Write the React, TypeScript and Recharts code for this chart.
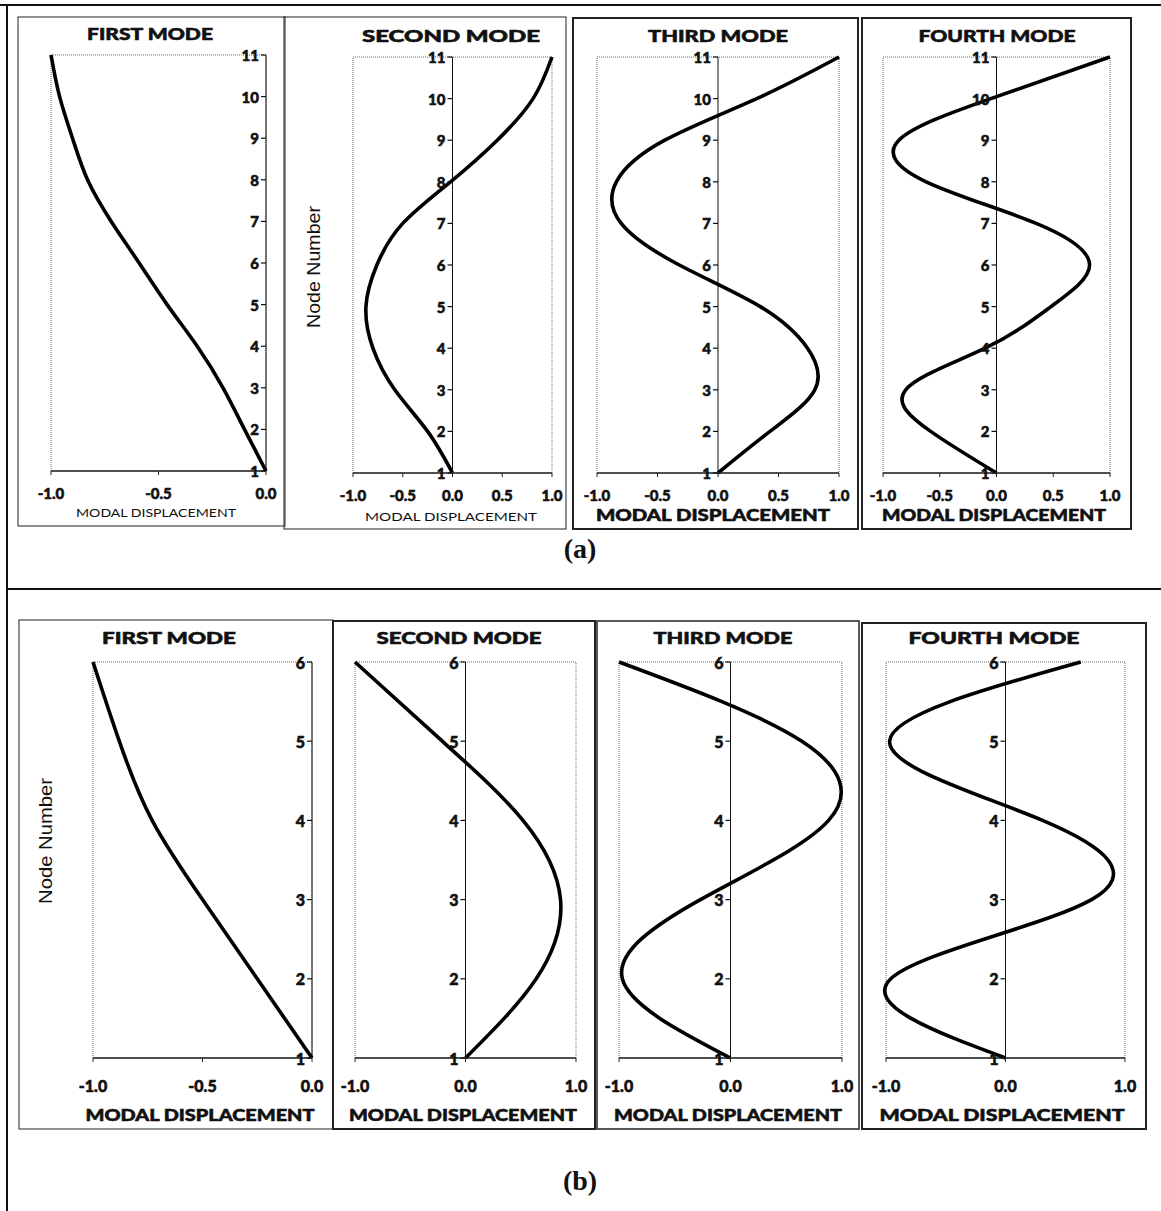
import React from "react";
import { Line, LineChart, ReferenceArea, ReferenceDot, ReferenceLine, XAxis, YAxis } from "recharts";

const HEAVY = 'Lato, "Open Sans", sans-serif';

// node numbers along the height of the structure
const nodesA = [1, 2, 3, 4, 5, 6, 7, 8, 9, 10, 11];
const nodesB = [1, 2, 3, 4, 5, 6];

// modal displacements at each node, (a) 11-node model
const firstModeA = [0, -0.1, -0.2, -0.32, -0.46, -0.59, -0.72, -0.83, -0.9, -0.96, -1.0];
const secondModeA = [0, -0.25, -0.58, -0.8, -0.87, -0.76, -0.5, -0.02, 0.45, 0.81, 1.0];
const thirdModeA = [0, 0.43, 0.8, 0.74, 0.35, -0.32, -0.8, -0.84, -0.44, 0.32, 1.0];
const fourthModeA = [0, -0.58, -0.8, -0.1, 0.48, 0.82, 0.35, -0.62, -0.86, -0.05, 1.0];

// (b) 6-node model
const firstModeB = [0, -0.25, -0.5, -0.73, -0.88, -1.0];
const secondModeB = [0, 0.64, 0.86, 0.52, -0.21, -1.0];
const thirdModeB = [0, -0.97, -0.27, 0.88, 0.64, -1.0];
const fourthModeB = [0, -0.96, 0.72, 0.31, -0.97, 0.63];

const halfTicks = [-1, -0.5, 0];
const fullTicks = [-1, -0.5, 0, 0.5, 1];
const coarseTicks = [-1, 0, 1];

type Plot = { left: number; top: number; width: number; height: number };

type PanelProps = {
  nodes: number[];
  values: number[];
  domain: [number, number];
  ticks: number[];
  plot: Plot;
  fontSize: number;
  tickGap: number;
};

const M = 22;

// heavy lettering: bold face plus a thin outline of the same colour
const heavyText = { fontFamily: HEAVY, fontWeight: 900, fill: "#111", stroke: "#111", strokeWidth: 0.55 };

function NodeTick(props: any) {
  const { cx, cy, label, fontSize } = props;
  if (cx == null || cy == null) return null;
  return (
    <g>
      <line x1={cx - 5} y1={cy} x2={cx} y2={cy} stroke="#111" strokeWidth={1.2} />
      <text x={cx - 7} y={cy} textAnchor="end" dominantBaseline="central" fontSize={fontSize} {...heavyText}>
        {label}
      </text>
    </g>
  );
}

function ModePanel({ nodes, values, domain, ticks, plot, fontSize, tickGap }: PanelProps) {
  const data = nodes.map((node, i) => ({ node, disp: values[i] }));
  const top = nodes[nodes.length - 1];
  return (
    <div style={{ position: "absolute", left: plot.left - M, top: plot.top - M }}>
      <LineChart
        layout="vertical"
        width={plot.width + 2 * M}
        height={plot.height + M + 44}
        data={data}
        margin={{ top: M, right: M, bottom: 0, left: M }}
      >
        <XAxis
          type="number"
          domain={domain}
          ticks={ticks}
          interval={0}
          height={44}
          tickFormatter={(v: number) => v.toFixed(1)}
          tick={{ ...heavyText, fontSize }}
          tickSize={4}
          tickMargin={tickGap}
          axisLine={{ stroke: "#222", strokeWidth: 1.5 }}
          tickLine={{ stroke: "#222" }}
        />
        {/* node 1 at the base, highest node at the top */}
        <YAxis type="number" dataKey="node" domain={[1, top]} reversed hide />
        <ReferenceArea
          x1={domain[0]}
          x2={domain[1]}
          y1={1}
          y2={top}
          fill="none"
          stroke="#666"
          strokeDasharray="1 1"
        />
        <ReferenceLine x={0} stroke="#111" strokeWidth={1} />
        {nodes.map((n) => (
          <ReferenceDot
            key={n}
            x={0}
            y={n}
            r={0}
            shape={(p: any) => <NodeTick {...p} label={n} fontSize={fontSize} />}
          />
        ))}
        <Line
          dataKey="disp"
          type="natural"
          stroke="#000"
          strokeWidth={3.6}
          dot={false}
          isAnimationActive={false}
        />
      </LineChart>
    </div>
  );
}

const panelsA = [
  { values: firstModeA, domain: [-1, 0], ticks: halfTicks, plot: { left: 51, top: 55, width: 215, height: 416 } },
  { values: secondModeA, domain: [-1, 1], ticks: fullTicks, plot: { left: 353, top: 57, width: 199, height: 416 } },
  { values: thirdModeA, domain: [-1, 1], ticks: fullTicks, plot: { left: 597, top: 57, width: 242, height: 416 } },
  { values: fourthModeA, domain: [-1, 1], ticks: fullTicks, plot: { left: 883, top: 57, width: 227, height: 416 } },
];

const panelsB = [
  { values: firstModeB, domain: [-1, 0], ticks: halfTicks, plot: { left: 93, top: 662, width: 219, height: 396 } },
  { values: secondModeB, domain: [-1, 1], ticks: coarseTicks, plot: { left: 355, top: 662, width: 221, height: 396 } },
  { values: thirdModeB, domain: [-1, 1], ticks: coarseTicks, plot: { left: 619, top: 662, width: 223, height: 396 } },
  { values: fourthModeB, domain: [-1, 1], ticks: coarseTicks, plot: { left: 886, top: 662, width: 239, height: 396 } },
];

type Caption = { text: string; x: number; y: number; w: number; size: number; bold: boolean };

const titles: Caption[] = [
  { text: "FIRST MODE", x: 150, y: 33, w: 126, size: 16, bold: true },
  { text: "SECOND MODE", x: 451, y: 35, w: 178, size: 16, bold: true },
  { text: "THIRD MODE", x: 718, y: 35, w: 140, size: 16, bold: true },
  { text: "FOURTH MODE", x: 997, y: 35, w: 157, size: 16, bold: true },
  { text: "FIRST MODE", x: 169, y: 637, w: 134, size: 16, bold: true },
  { text: "SECOND MODE", x: 459, y: 637, w: 165, size: 16, bold: true },
  { text: "THIRD MODE", x: 723, y: 637, w: 139, size: 16, bold: true },
  { text: "FOURTH MODE", x: 994, y: 637, w: 171, size: 16, bold: true },
  { text: "MODAL DISPLACEMENT", x: 156, y: 512, w: 160, size: 12, bold: false },
  { text: "MODAL DISPLACEMENT", x: 451, y: 516, w: 172, size: 12, bold: false },
  { text: "MODAL DISPLACEMENT", x: 713, y: 514, w: 234, size: 16, bold: true },
  { text: "MODAL DISPLACEMENT", x: 994, y: 514, w: 224, size: 16, bold: true },
  { text: "MODAL DISPLACEMENT", x: 200, y: 1114, w: 229, size: 16, bold: true },
  { text: "MODAL DISPLACEMENT", x: 463, y: 1114, w: 228, size: 16, bold: true },
  { text: "MODAL DISPLACEMENT", x: 728, y: 1114, w: 228, size: 16, bold: true },
  { text: "MODAL DISPLACEMENT", x: 1002, y: 1114, w: 245, size: 16, bold: true },
];

const frames = [
  { x: 18, y: 17, w: 267, h: 509, sw: 1 },
  { x: 284, y: 17, w: 282, h: 512, sw: 1 },
  { x: 573, y: 18, w: 285, h: 511, sw: 2 },
  { x: 862, y: 18, w: 269, h: 511, sw: 2 },
  { x: 19, y: 620, w: 314, h: 509, sw: 1 },
  { x: 333, y: 621, w: 262, h: 508, sw: 2 },
  { x: 597, y: 621, w: 262, h: 508, sw: 1.5 },
  { x: 862, y: 623, w: 284, h: 506, sw: 2 },
];

export default function App() {
  return (
    <div style={{ position: "absolute", left: 0, top: 0, width: 1161, height: 1211, background: "#fff" }}>
      {panelsA.map((p, i) => (
        <ModePanel
          key={`a${i}`}
          nodes={nodesA}
          values={p.values}
          domain={p.domain as [number, number]}
          ticks={p.ticks}
          plot={p.plot}
          fontSize={15}
          tickGap={13}
        />
      ))}
      {panelsB.map((p, i) => (
        <ModePanel
          key={`b${i}`}
          nodes={nodesB}
          values={p.values}
          domain={p.domain as [number, number]}
          ticks={p.ticks}
          plot={p.plot}
          fontSize={16}
          tickGap={19}
        />
      ))}
      <svg
        width={1161}
        height={1211}
        style={{ position: "absolute", left: 0, top: 0, pointerEvents: "none" }}
      >
        <line x1={0} y1={5} x2={1161} y2={5} stroke="#111" strokeWidth={2} />
        <line x1={7} y1={5} x2={7} y2={1211} stroke="#111" strokeWidth={2} />
        <line x1={7} y1={589} x2={1161} y2={589} stroke="#111" strokeWidth={2} />
        {frames.map((f, i) => (
          <rect key={i} x={f.x} y={f.y} width={f.w} height={f.h} fill="none" stroke="#222" strokeWidth={f.sw} />
        ))}
        {titles.map((t, i) => (
          <text
            key={i}
            x={t.x}
            y={t.y}
            textAnchor="middle"
            dominantBaseline="central"
            textLength={t.w}
            lengthAdjust="spacingAndGlyphs"
            fontSize={t.size}
            {...(t.bold ? heavyText : { fontFamily: HEAVY, fontWeight: 400, fill: "#111" })}
          >
            {t.text}
          </text>
        ))}
        <text
          transform="translate(313 267) rotate(-90)"
          textAnchor="middle"
          dominantBaseline="central"
          textLength={122}
          lengthAdjust="spacingAndGlyphs"
          fontFamily='"Liberation Sans", Arial, sans-serif'
          fontSize={19}
          fill="#111"
        >
          Node Number
        </text>
        <text
          transform="translate(45 841) rotate(-90)"
          textAnchor="middle"
          dominantBaseline="central"
          textLength={126}
          lengthAdjust="spacingAndGlyphs"
          fontFamily='"Liberation Sans", Arial, sans-serif'
          fontSize={19}
          fill="#111"
        >
          Node Number
        </text>
        <text
          x={580}
          y={548}
          textAnchor="middle"
          dominantBaseline="central"
          fontFamily='"Liberation Serif", "Times New Roman", serif'
          fontWeight={700}
          fontSize={28}
          fill="#111"
        >
          (a)
        </text>
        <text
          x={580}
          y={1180}
          textAnchor="middle"
          dominantBaseline="central"
          fontFamily='"Liberation Serif", "Times New Roman", serif'
          fontWeight={700}
          fontSize={28}
          fill="#111"
        >
          (b)
        </text>
      </svg>
    </div>
  );
}
